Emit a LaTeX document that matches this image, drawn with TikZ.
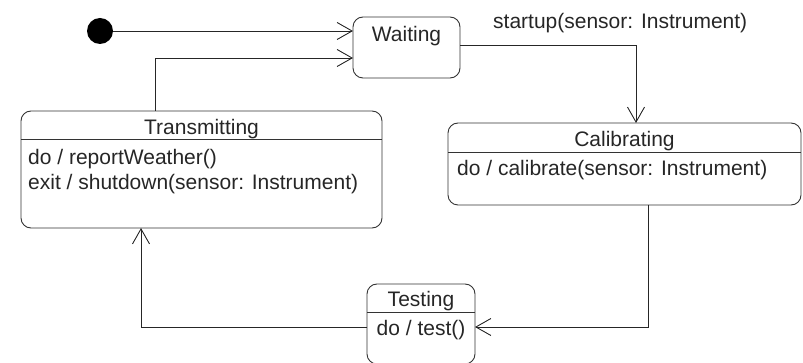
\documentclass[tikz,border=0pt]{standalone}
\usepackage{fontspec}
\setmainfont{Liberation Sans}
\usepackage{tikz}
\usetikzlibrary{positioning,calc,arrows.meta}
\tikzset{
	etat/.style={draw=black!80, rounded corners=10pt, line width=0.9pt, inner sep=0pt, outer sep=0pt},
	txt/.style={inner sep=0pt, text=black!85, font=\fontsize{21}{23}\selectfont},
	sep/.style={draw=black!80, line width=0.9pt},
	fleche/.style={draw=black!85, line width=0.9pt, -{Straight Barb[length=15pt,width=17pt]}}
}

\begin{document}
\begin{tikzpicture}[x=1pt,y=-1pt]
\useasboundingbox (0,0) rectangle (803,363);

%Etats
\node[circle, fill=black, minimum size=26pt, inner sep=0pt] (init) at (100,31) {};
\node[etat, anchor=north west, minimum width=107pt, minimum height=61pt] (wait) at (353,17) {};
\node[etat, anchor=north west, minimum width=361pt, minimum height=117pt] (transm) at (21,111) {};
\node[etat, anchor=north west, minimum width=353pt, minimum height=82pt] (calib) at (448,123) {};
\node[etat, anchor=north west, minimum width=108pt, minimum height=80pt] (testing) at (367,284) {};

%Separateurs
\draw[sep] (transm.west |- 0,139) -- (transm.east |- 0,139);
\draw[sep] (calib.west |- 0,152) -- (calib.east |- 0,152);
\draw[sep] (testing.west |- 0,312) -- (testing.east |- 0,312);

%Textes
\node[txt, anchor=base] (waitT) at (wait.north |- 0,42) {Waiting};
\node[txt, anchor=base] (transmT) at (transm.north |- 0,135) {Transmitting};
\node[txt, anchor=base west] (transmA) at (28,165) {do / reportWeather()};
\node[txt, anchor=base west] (transmB) at (28,190) {exit / shutdown(sensor: Instrument)};
\node[txt, anchor=base] (calibT) at (calib.north |- 0,147) {Calibrating};
\node[txt, anchor=base west] (calibA) at (457,176) {do / calibrate(sensor: Instrument)};
\node[txt, anchor=base] (testingT) at (testing.north |- 0,307) {Testing};
\node[txt, anchor=base] (testingA) at (testing.north |- 0,335) {do / test()};
\node[txt, anchor=base west] (startlbl) at (493,29) {startup(sensor: Instrument)};

%Transitions
\coordinate (c1) at (155,58);
\coordinate (c2) at (636,45);
\coordinate (c3) at (648,327);
\coordinate (c4) at (141,327);
\draw[fleche] (init.east) -- (wait.west |- init);
\draw[fleche] (transm.north -| c1) |- (wait.west |- c1);
\draw[fleche] (wait.east |- c2) -| (calib.north -| c2);
\draw[fleche] (calib.south -| c3) |- (testing.east |- c3);
\draw[fleche] (testing.west |- c4) -| (transm.south -| c4);
\end{tikzpicture}
\end{document}
